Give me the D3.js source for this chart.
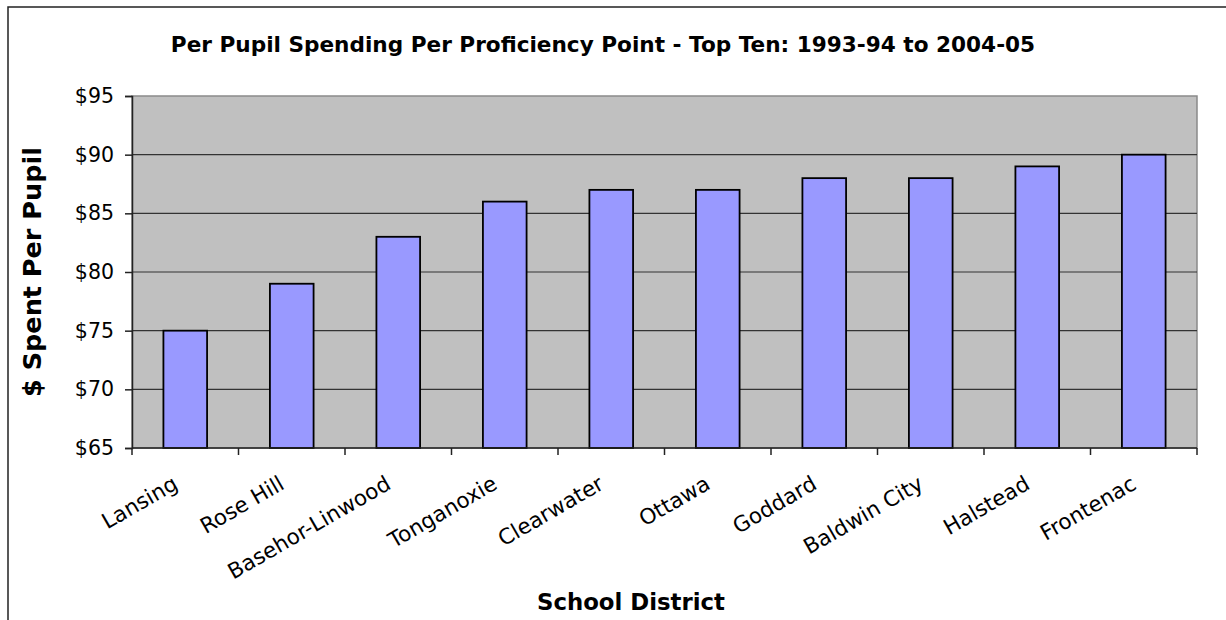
<!DOCTYPE html>
<html>
<head>
<meta charset="utf-8">
<script src="https://cdn.jsdelivr.net/npm/d3@7"></script>
<style>
  body { margin: 0; background: #fff; }
  text { font-family: "DejaVu Sans", sans-serif; fill: #000; }
</style>
</head>
<body>
<div id="chart"></div>
<script>
var districts = ["Lansing", "Rose Hill", "Basehor-Linwood", "Tonganoxie", "Clearwater",
                 "Ottawa", "Goddard", "Baldwin City", "Halstead", "Frontenac"];
var spending = [75, 79, 83, 86, 87, 87, 88, 88, 89, 90];
var yTicks = [65, 70, 75, 80, 85, 90, 95];

var width = 1226, height = 620;
var plotLeft = 132, plotRight = 1197, plotTop = 96, plotBottom = 448;

var svg = d3.select("#chart").append("svg")
    .attr("width", width)
    .attr("height", height);

// outer frame (runs off the right and bottom edge)
svg.append("rect")
    .attr("x", 8).attr("y", 7)
    .attr("width", 1240).attr("height", 640)
    .attr("fill", "none")
    .attr("stroke", "#222")
    .attr("stroke-width", 1.5);

var x = d3.scaleBand()
    .domain(districts)
    .range([plotLeft, plotRight])
    .paddingInner(0.59)
    .paddingOuter(0.295);

var y = d3.scaleLinear()
    .domain([65, 95])
    .range([plotBottom, plotTop]);

// plot area
svg.append("rect")
    .attr("x", plotLeft).attr("y", plotTop)
    .attr("width", plotRight - plotLeft).attr("height", plotBottom - plotTop)
    .attr("fill", "#c0c0c0")
    .attr("stroke", "#8a8a8a")
    .attr("stroke-width", 1.5);

// gridlines
svg.selectAll("line.grid")
    .data(yTicks.slice(1, -1))
    .enter().append("line")
    .attr("class", "grid")
    .attr("x1", plotLeft).attr("x2", plotRight)
    .attr("y1", function(d){ return y(d); })
    .attr("y2", function(d){ return y(d); })
    .attr("stroke", "#333")
    .attr("stroke-width", 1.2);

// bars
svg.selectAll("rect.bar")
    .data(spending)
    .enter().append("rect")
    .attr("class", "bar")
    .attr("x", function(d, i){ return x(districts[i]); })
    .attr("y", function(d){ return y(d); })
    .attr("width", x.bandwidth())
    .attr("height", function(d){ return plotBottom - y(d); })
    .attr("fill", "#9999ff")
    .attr("stroke", "#000")
    .attr("stroke-width", 1.8);

// y axis
var yAxis = d3.axisLeft(y)
    .tickValues(yTicks)
    .tickSize(7)
    .tickPadding(11)
    .tickFormat(function(d){ return "$" + d; });

var gy = svg.append("g")
    .attr("transform", "translate(" + plotLeft + ",0)")
    .call(yAxis);
gy.select(".domain").attr("stroke", "#222").attr("stroke-width", 1.5);
gy.selectAll(".tick line").attr("stroke", "#222").attr("stroke-width", 1.5);
gy.selectAll(".tick text")
    .attr("font-size", 20.5)
    .attr("font-family", "DejaVu Sans, sans-serif");

// x axis: ticks between categories
var step = x.step();
var boundaries = d3.range(districts.length + 1).map(function(i){ return plotLeft + i * step; });

svg.append("line")
    .attr("x1", plotLeft).attr("x2", plotRight)
    .attr("y1", plotBottom).attr("y2", plotBottom)
    .attr("stroke", "#222").attr("stroke-width", 1.5);

svg.selectAll("line.xtick")
    .data(boundaries)
    .enter().append("line")
    .attr("class", "xtick")
    .attr("x1", function(d){ return d; })
    .attr("x2", function(d){ return d; })
    .attr("y1", plotBottom).attr("y2", plotBottom + 7)
    .attr("stroke", "#222").attr("stroke-width", 1.5);

svg.selectAll("text.xlab")
    .data(districts)
    .enter().append("text")
    .attr("class", "xlab")
    .attr("text-anchor", "end")
    .attr("font-size", 21.5)
    .attr("transform", function(d){
        var cx = x(d) + x.bandwidth() / 2;
        return "translate(" + (cx - 6) + "," + (plotBottom + 40) + ") rotate(-30)";
    })
    .text(function(d){ return d; });

// titles
svg.append("text")
    .attr("x", 603).attr("y", 52)
    .attr("text-anchor", "middle")
    .attr("font-size", 21.6)
    .attr("font-weight", "bold")
    .text("Per Pupil Spending Per Proficiency Point - Top Ten: 1993-94 to 2004-05");

svg.append("text")
    .attr("transform", "translate(41,272) rotate(-90)")
    .attr("text-anchor", "middle")
    .attr("font-size", 25.5)
    .attr("font-weight", "bold")
    .text("$ Spent Per Pupil");

svg.append("text")
    .attr("x", 631).attr("y", 610)
    .attr("text-anchor", "middle")
    .attr("font-size", 22.8)
    .attr("font-weight", "bold")
    .text("School District");
</script>
</body>
</html>
